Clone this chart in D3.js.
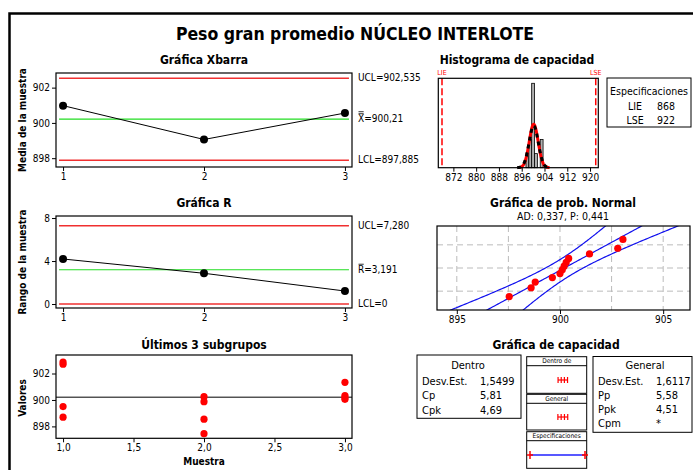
<!DOCTYPE html>
<html>
<head>
<meta charset="utf-8">
<script src="https://cdn.jsdelivr.net/npm/d3@7"></script>
<style>
  body { margin: 0; background: #fff; }
  svg { font-family: "DejaVu Sans Condensed", "DejaVu Sans", sans-serif; }
</style>
</head>
<body>
<svg id="chart" width="693" height="470"></svg>
<script>
// values
const subgroups = [1, 2, 3]
const xbarMeans = [900.98, 899.06, 900.56]
const xbarLimits = {ucl: 902.535, center: 900.21, lcl: 897.885}
const ranges = [4.19, 2.86, 1.21]
const rLimits = {ucl: 7.28, center: 3.191, lcl: 0}
const lastValues = [
  [902.87, 902.7, 899.5, 898.7],
  [900.25, 899.87, 898.55, 897.45],
  [901.33, 900.33, 900.17, 900.05]
]
const probValues = [897.54, 898.6, 898.8, 899.63, 900.0, 900.11, 900.2, 900.3, 900.42, 901.43, 902.8, 903.05]
const histBins = [898, 899, 900, 901, 902, 903]
const histCounts = [1, 2, 6, 1, 0, 2]
const specs = {lie: 868, lse: 922}
const grandMean = 900.21
const sdWithin = 1.5499
const sdOverall = 1.6117
const withinStats = [["Desv.Est.", "1,5499"], ["Cp", "5,81"], ["Cpk", "4,69"]]
const overallStats = [["Desv.Est.", "1,6117"], ["Pp", "5,58"], ["Ppk", "4,51"], ["Cpm", "*"]]

const svg = d3.select("#chart")
const FONT = "DejaVu Sans Condensed"
const RED = "#f03030", GREEN = "#22dd22"
const intFmt = d3.format("d")

// inverse normal cdf (Acklam)
function probit(p) {
  const a = [-39.6968302866538, 220.946098424521, -275.928510446969, 138.357751867269, -30.6647980661472, 2.50662827745924]
  const b = [-54.4760987982241, 161.585836858041, -155.698979859887, 66.8013118877197, -13.2806815528857]
  const c = [-0.00778489400243029, -0.322396458041136, -2.40075827716184, -2.54973253934373, 4.37466414146497, 2.93816398269878]
  const d = [0.00778469570904146, 0.32246712907004, 2.445134137143, 3.75440866190742]
  if (p < 0.02425) {
    let q = Math.sqrt(-2 * Math.log(p))
    return (((((c[0]*q+c[1])*q+c[2])*q+c[3])*q+c[4])*q+c[5]) / ((((d[0]*q+d[1])*q+d[2])*q+d[3])*q+1)
  }
  if (p > 1 - 0.02425) return -probit(1 - p)
  let q = p - 0.5, r = q * q
  return (((((a[0]*r+a[1])*r+a[2])*r+a[3])*r+a[4])*r+a[5])*q / (((((b[0]*r+b[1])*r+b[2])*r+b[3])*r+b[4])*r+1)
}

function text(x, y, s, opts = {}) {
  return svg.append("text")
    .attr("x", x).attr("y", y)
    .attr("text-anchor", opts.anchor || "start")
    .attr("font-size", opts.size || 10)
    .attr("font-weight", opts.bold ? "bold" : "normal")
    .attr("fill", opts.fill || "#000")
    .attr("dominant-baseline", "middle")
    .text(s)
}

function box(x0, y0, x1, y1, w = 1.2) {
  svg.append("rect")
    .attr("x", x0).attr("y", y0).attr("width", x1 - x0).attr("height", y1 - y0)
    .attr("fill", "none").attr("stroke", "#000").attr("stroke-width", w)
}

function axis(gen, tx, ty) {
  let g = svg.append("g").attr("transform", `translate(${tx},${ty})`).call(gen)
  g.select(".domain").remove()
  g.selectAll(".tick text").attr("font-family", FONT).attr("font-size", 10)
  return g
}

function ylabel(x, y, s) {
  text(x, y, s, {bold: true, anchor: "middle"}).attr("transform", `rotate(-90,${x},${y})`)
}

function hline(x0, x1, y, color, w) {
  svg.append("line").attr("x1", x0).attr("x2", x1).attr("y1", y).attr("y2", y)
    .attr("stroke", color).attr("stroke-width", w)
}

// outer frame + title
svg.append("path").attr("d", "M9.5,470 V13.5 H693").attr("fill", "none").attr("stroke", "#000").attr("stroke-width", 2.5)
text(355, 35, "Peso gran promedio NÚCLEO INTERLOTE", {bold: true, size: 17.5, anchor: "middle"})

const xs = d3.scaleLinear().domain([0.95, 3.05]).range([56, 352])

// control chart (xbar / r)
function control_chart(y, vals, lim, labels, title, yl, ticks, top) {
  text(204, top - 13, title, {bold: true, size: 12, anchor: "middle"})
  hline(xs(1) - 4, xs(3) + 4, y(lim.ucl), RED, 1.5)
  hline(xs(1) - 4, xs(3) + 4, y(lim.lcl), RED, 1.5)
  hline(xs(1) - 4, xs(3) + 4, y(lim.center), GREEN, 1.2)
  svg.append("path").datum(vals)
    .attr("d", d3.line().x((d, i) => xs(subgroups[i])).y(d => y(d)))
    .attr("fill", "none").attr("stroke", "#000").attr("stroke-width", 1)
  svg.append("g").selectAll("circle").data(vals).enter().append("circle")
    .attr("cx", (d, i) => xs(subgroups[i])).attr("cy", d => y(d)).attr("r", 4)
  box(56, y.range()[1], 352, y.range()[0])
  axis(d3.axisLeft(y).tickValues(ticks).tickFormat(intFmt).tickSize(4).tickPadding(2), 56, 0)
  axis(d3.axisBottom(xs).tickValues(subgroups).tickFormat(intFmt).tickSize(4).tickPadding(2), 0, y.range()[0])
  ylabel(23, (y.range()[0] + y.range()[1]) / 2, yl)
  text(358, y(lim.ucl), "UCL=" + labels[0])
  text(358, y(lim.lcl), "LCL=" + labels[2])
  let sym = text(358, y(lim.center), labels[3])
  let w = sym.node().getComputedTextLength()
  let bb = sym.node().getBBox()
  for (let k = 0; k < labels[4]; k++)
    hline(358.5, 358 + w - 0.5, bb.y + 0.5 - k * 2, "#000", 0.8)
  text(358 + w, y(lim.center), "=" + labels[1])
}

let yX = d3.scaleLinear().domain([897.5, 902.83]).range([167, 73])
control_chart(yX, xbarMeans, xbarLimits, ["902,535", "900,21", "897,885", "X", 2],
  "Gráfica Xbarra", "Media de la muestra", [898, 900, 902], 73)

let yR = d3.scaleLinear().domain([-0.37, 8.19]).range([308, 216])
control_chart(yR, ranges, rLimits, ["7,280", "3,191", "0", "R", 1],
  "Gráfica R", "Rango de la muestra", [0, 4, 8], 216)

// last 3 subgroups
function last_subgroups() {
  let y = d3.scaleLinear().domain([897.1, 903.4]).range([438.3, 355])
  text(204, 345, "Últimos 3 subgrupos", {bold: true, size: 12, anchor: "middle"})
  hline(56, 352, y(grandMean), "#000", 1)
  let pts = []
  lastValues.forEach((g, i) => g.forEach(v => pts.push([subgroups[i], v])))
  svg.append("g").selectAll("circle").data(pts).enter().append("circle")
    .attr("cx", d => xs(d[0])).attr("cy", d => y(d[1])).attr("r", 3.6).attr("fill", "#ff0000")
  box(56, 355, 352, 438.3)
  axis(d3.axisLeft(y).tickValues([898, 900, 902]).tickFormat(intFmt).tickSize(4).tickPadding(2), 56, 0)
  axis(d3.axisBottom(xs).tickValues([1, 1.5, 2, 2.5, 3]).tickFormat(d => d3.format(".1f")(d).replace(".", ","))
    .tickSize(4).tickPadding(2), 0, 438.3)
  ylabel(23, 398, "Valores")
  text(204, 462, "Muestra", {bold: true, anchor: "middle"})
}
last_subgroups()

// normal density curve, scaled to counts
function density(sd, scaleX, scaleY) {
  let pts = []
  for (let v = grandMean - 3.6 * sd; v <= grandMean + 3.6 * sd; v += 0.05) {
    let f = Math.exp(-0.5 * ((v - grandMean) / sd) ** 2) / (sd * Math.sqrt(2 * Math.PI))
    pts.push([scaleX(v), scaleY(f * probValues.length * 1)])
  }
  return d3.line()(pts)
}

// capability histogram
function histogram() {
  let x = d3.scaleLinear().domain([866.7, 922.9]).range([438.3, 598.3])
  let y = d3.scaleLinear().domain([0, 6]).range([167.7, 83.3])
  text(517, 60, "Histograma de capacidad", {bold: true, size: 12, anchor: "middle"})
  svg.append("g").selectAll("rect").data(histBins).enter().append("rect")
    .attr("x", d => x(d - 0.5)).attr("width", d => x(d + 0.5) - x(d - 0.5))
    .attr("y", (d, i) => y(histCounts[i])).attr("height", (d, i) => y(0) - y(histCounts[i]))
    .attr("fill", "#b0b0b0").attr("stroke", "#000").attr("stroke-width", 0.8)
  svg.append("path").attr("d", density(sdWithin, x, y))
    .attr("fill", "none").attr("stroke", "#ff0000").attr("stroke-width", 3)
  svg.append("path").attr("d", density(sdOverall, x, y))
    .attr("fill", "none").attr("stroke", "#000").attr("stroke-width", 3).attr("stroke-dasharray", "4,4")
  for (let s of [specs.lie, specs.lse]) {
    svg.append("line").attr("x1", x(s)).attr("x2", x(s)).attr("y1", 78.3).attr("y2", 167.7)
      .attr("stroke", "#ff0000").attr("stroke-width", 1.5).attr("stroke-dasharray", "7,3")
  }
  text(x(specs.lie), 73, "LIE", {size: 7, fill: "#ff0000", anchor: "middle"})
  text(x(specs.lse), 73, "LSE", {size: 7, fill: "#ff0000", anchor: "middle"})
  box(438.3, 78.3, 598.3, 167.7)
  axis(d3.axisBottom(x).tickValues(d3.range(872, 921, 8)).tickFormat(intFmt).tickSize(4).tickPadding(2), 0, 167.7)

  box(607, 78, 691, 127, 1)
  text(649, 92, "Especificaciones", {size: 10.5, anchor: "middle"})
  text(635, 107, "LIE", {size: 10.5, anchor: "middle"})
  text(657, 107, String(specs.lie), {size: 10.5})
  text(635, 121, "LSE", {size: 10.5, anchor: "middle"})
  text(657, 121, String(specs.lse), {size: 10.5})
}
histogram()

// normal probability plot
function prob_plot() {
  let x = d3.scaleLinear().domain([894.04, 906.3]).range([437, 690])
  let y = d3.scaleLinear().domain([-2.326, 2.326]).range([310, 226])
  let n = probValues.length
  text(563, 203, "Gráfica de prob. Normal", {bold: true, size: 12, anchor: "middle"})
  text(563, 217, "AD: 0,337, P: 0,441", {size: 10.5, anchor: "middle"})
  svg.append("clipPath").attr("id", "pclip").append("rect")
    .attr("x", 437).attr("y", 226).attr("width", 253).attr("height", 84)
  let g = svg.append("g").attr("clip-path", "url(#pclip)")
  for (let v of [895, 897.5, 900, 902.5, 905])
    g.append("line").attr("x1", x(v)).attr("x2", x(v)).attr("y1", 226).attr("y2", 310)
      .attr("stroke", "#bbb").attr("stroke-dasharray", "6,4")
  for (let p of [0.1, 0.5, 0.9])
    g.append("line").attr("x1", 437).attr("x2", 690).attr("y1", y(probit(p))).attr("y2", y(probit(p)))
      .attr("stroke", "#bbb").attr("stroke-dasharray", "6,4")
  let zs = d3.range(-2.6, 2.61, 0.05)
  let se = z => 1.96 * sdOverall / Math.sqrt(n) * Math.sqrt(1 + z * z / 2)
  for (let k of [-1, 0, 1]) {
    g.append("path")
      .attr("d", d3.line().x(z => x(grandMean + z * sdOverall + k * se(z))).y(z => y(z))(zs))
      .attr("fill", "none").attr("stroke", "#1010ee").attr("stroke-width", 1.2)
  }
  let sorted = probValues.slice().sort(d3.ascending)
  g.selectAll("circle").data(sorted).enter().append("circle")
    .attr("cx", d => x(d)).attr("cy", (d, i) => y(probit((i + 1 - 0.3) / (n + 0.4))))
    .attr("r", 3.6).attr("fill", "#ff0000")
  box(437, 226, 690, 310)
  axis(d3.axisBottom(x).tickValues([895, 900, 905]).tickFormat(intFmt).tickSize(4).tickPadding(2), 0, 310)
}
prob_plot()

// capability plot
function capability() {
  text(556, 345, "Gráfica de capacidad", {bold: true, size: 12, anchor: "middle"})
  box(417, 355, 521, 418.3, 1)
  text(468, 366, "Dentro", {size: 11, anchor: "middle"})
  withinStats.forEach((r, i) => {
    text(422, 381.5 + i * 14.5, r[0], {size: 11})
    text(480, 381.5 + i * 14.5, r[1], {size: 11})
  })
  box(593, 356.5, 692, 432.3, 1)
  text(645, 366, "General", {size: 11, anchor: "middle"})
  overallStats.forEach((r, i) => {
    text(598, 381.5 + i * 14.3, r[0], {size: 11})
    text(656, 381.5 + i * 14.3, r[1], {size: 11})
  })
  let x = d3.scaleLinear().domain([specs.lie, specs.lse]).range([530, 585])
  let heads = [["Dentro de", 356.7, 393.3], ["General", 394.3, 430], ["Especificaciones", 431.7, 468.3]]
  heads.forEach(h => {
    box(526.7, h[1], 586.7, h[2], 1)
    hline(526.7, 586.7, h[1] + 9, "#000", 1)
    text(556.7, h[1] + 4.8, h[0], {size: 6.5, anchor: "middle"})
  })
  let ints = [[sdWithin, 380], [sdOverall, 417]]
  ints.forEach(t => {
    let lo = grandMean - 3 * t[0], hi = grandMean + 3 * t[0]
    hline(x(lo), x(hi), t[1], "#ff0000", 1.2)
    for (let v of [lo, grandMean - t[0], grandMean + t[0], hi])
      svg.append("line").attr("x1", x(v)).attr("x2", x(v)).attr("y1", t[1] - 3).attr("y2", t[1] + 3)
        .attr("stroke", "#ff0000").attr("stroke-width", 1.2)
  })
  hline(x(specs.lie), x(specs.lse), 455, "#2020ff", 1.5)
  for (let s of [specs.lie, specs.lse]) {
    svg.append("line").attr("x1", x(s)).attr("x2", x(s)).attr("y1", 451).attr("y2", 459)
      .attr("stroke", "#ff0000").attr("stroke-width", 1.5)
    hline(x(s) - 3, x(s) + 3, 455, "#ff0000", 1.5)
  }
}
capability()
</script>
</body>
</html>
